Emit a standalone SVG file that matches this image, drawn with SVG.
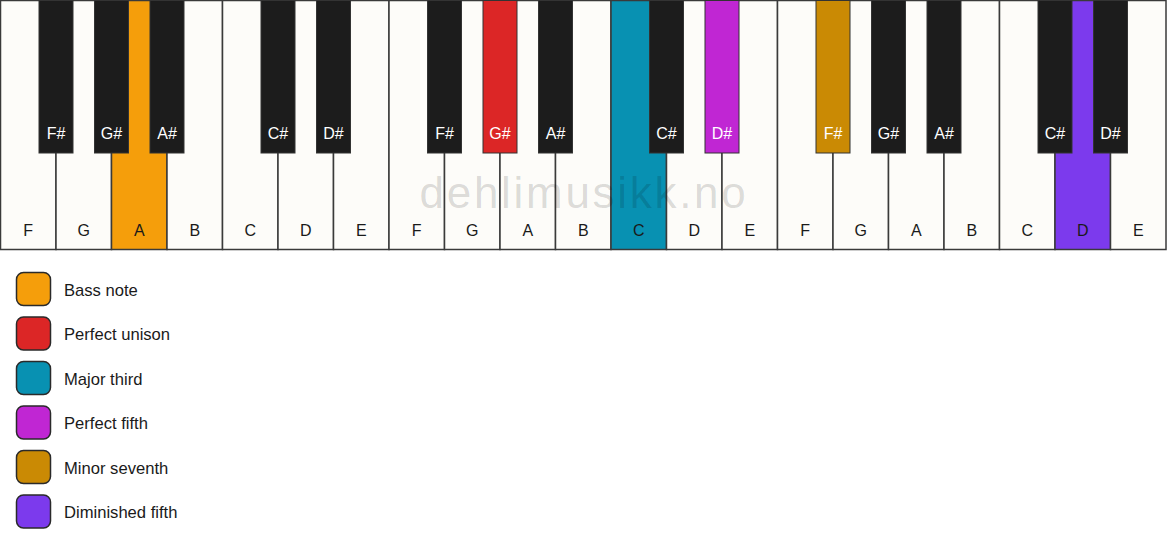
<svg xmlns="http://www.w3.org/2000/svg" width="1167" height="550" viewBox="0 0 1167 550">
<style>
.w{fill:#fdfcf9;stroke:#3a3a3a;stroke-width:1.5}
.b{fill:#1c1c1c;stroke:#333;stroke-width:1}
.wl{font-family:"Liberation Sans",Arial,sans-serif;font-size:16px;fill:#1a1a1a;text-anchor:middle}
.bl{font-family:"Liberation Sans",Arial,sans-serif;font-size:16px;fill:#ffffff;text-anchor:middle}
.sw{stroke:#2a2a2a;stroke-width:1.5}
.lt{font-family:"Liberation Sans",Arial,sans-serif;font-size:16.6px;fill:#1a1a1a}
.wm{font-family:"Liberation Sans",Arial,sans-serif;font-size:44px;fill:#000;fill-opacity:0.14;text-anchor:middle;letter-spacing:2.7px}
</style>
<rect x="0" y="0" width="1167" height="550" fill="#ffffff"/>
<g id="white-keys">
<g id="w0"><rect class="w" x="0.5" y="0.5" width="55.5" height="249"/><text class="wl" x="28.25" y="236">F</text></g>
<g id="w1"><rect class="w" x="56" y="0.5" width="55.5" height="249"/><text class="wl" x="83.75" y="236">G</text></g>
<g id="w2"><rect class="w" x="111.5" y="0.5" width="55.5" height="249" style="fill:#F59E0B"/><text class="wl" x="139.25" y="236">A</text></g>
<g id="w3"><rect class="w" x="167" y="0.5" width="55.5" height="249"/><text class="wl" x="194.75" y="236">B</text></g>
<g id="w4"><rect class="w" x="222.5" y="0.5" width="55.5" height="249"/><text class="wl" x="250.25" y="236">C</text></g>
<g id="w5"><rect class="w" x="278" y="0.5" width="55.5" height="249"/><text class="wl" x="305.75" y="236">D</text></g>
<g id="w6"><rect class="w" x="333.5" y="0.5" width="55.5" height="249"/><text class="wl" x="361.25" y="236">E</text></g>
<g id="w7"><rect class="w" x="389" y="0.5" width="55.5" height="249"/><text class="wl" x="416.75" y="236">F</text></g>
<g id="w8"><rect class="w" x="444.5" y="0.5" width="55.5" height="249"/><text class="wl" x="472.25" y="236">G</text></g>
<g id="w9"><rect class="w" x="500" y="0.5" width="55.5" height="249"/><text class="wl" x="527.75" y="236">A</text></g>
<g id="w10"><rect class="w" x="555.5" y="0.5" width="55.5" height="249"/><text class="wl" x="583.25" y="236">B</text></g>
<g id="w11"><rect class="w" x="611" y="0.5" width="55.5" height="249" style="fill:#0891B2"/><text class="wl" x="638.75" y="236">C</text></g>
<g id="w12"><rect class="w" x="666.5" y="0.5" width="55.5" height="249"/><text class="wl" x="694.25" y="236">D</text></g>
<g id="w13"><rect class="w" x="722" y="0.5" width="55.5" height="249"/><text class="wl" x="749.75" y="236">E</text></g>
<g id="w14"><rect class="w" x="777.5" y="0.5" width="55.5" height="249"/><text class="wl" x="805.25" y="236">F</text></g>
<g id="w15"><rect class="w" x="833" y="0.5" width="55.5" height="249"/><text class="wl" x="860.75" y="236">G</text></g>
<g id="w16"><rect class="w" x="888.5" y="0.5" width="55.5" height="249"/><text class="wl" x="916.25" y="236">A</text></g>
<g id="w17"><rect class="w" x="944" y="0.5" width="55.5" height="249"/><text class="wl" x="971.75" y="236">B</text></g>
<g id="w18"><rect class="w" x="999.5" y="0.5" width="55.5" height="249"/><text class="wl" x="1027.25" y="236">C</text></g>
<g id="w19"><rect class="w" x="1055" y="0.5" width="55.5" height="249" style="fill:#7C3AED"/><text class="wl" x="1082.75" y="236">D</text></g>
<g id="w20"><rect class="w" x="1110.5" y="0.5" width="55.5" height="249"/><text class="wl" x="1138.25" y="236">E</text></g>
</g>
<g id="black-keys">
<g id="b0"><rect class="b" x="39" y="0.5" width="34" height="152.5"/><text class="bl" x="56" y="139">F#</text></g>
<g id="b1"><rect class="b" x="94.5" y="0.5" width="34" height="152.5"/><text class="bl" x="111.5" y="139">G#</text></g>
<g id="b2"><rect class="b" x="150" y="0.5" width="34" height="152.5"/><text class="bl" x="167" y="139">A#</text></g>
<g id="b3"><rect class="b" x="261" y="0.5" width="34" height="152.5"/><text class="bl" x="278" y="139">C#</text></g>
<g id="b4"><rect class="b" x="316.5" y="0.5" width="34" height="152.5"/><text class="bl" x="333.5" y="139">D#</text></g>
<g id="b5"><rect class="b" x="427.5" y="0.5" width="34" height="152.5"/><text class="bl" x="444.5" y="139">F#</text></g>
<g id="b6"><rect class="b" x="483" y="0.5" width="34" height="152.5" style="fill:#DC2626"/><text class="bl" x="500" y="139">G#</text></g>
<g id="b7"><rect class="b" x="538.5" y="0.5" width="34" height="152.5"/><text class="bl" x="555.5" y="139">A#</text></g>
<g id="b8"><rect class="b" x="649.5" y="0.5" width="34" height="152.5"/><text class="bl" x="666.5" y="139">C#</text></g>
<g id="b9"><rect class="b" x="705" y="0.5" width="34" height="152.5" style="fill:#C026D3"/><text class="bl" x="722" y="139">D#</text></g>
<g id="b10"><rect class="b" x="816" y="0.5" width="34" height="152.5" style="fill:#CA8A04"/><text class="bl" x="833" y="139">F#</text></g>
<g id="b11"><rect class="b" x="871.5" y="0.5" width="34" height="152.5"/><text class="bl" x="888.5" y="139">G#</text></g>
<g id="b12"><rect class="b" x="927" y="0.5" width="34" height="152.5"/><text class="bl" x="944" y="139">A#</text></g>
<g id="b13"><rect class="b" x="1038" y="0.5" width="34" height="152.5"/><text class="bl" x="1055" y="139">C#</text></g>
<g id="b14"><rect class="b" x="1093.5" y="0.5" width="34" height="152.5"/><text class="bl" x="1110.5" y="139">D#</text></g>
</g>
<text class="wm" x="584" y="207.5">dehlimusikk.no</text>
<g id="legend">
<g id="leg-bass"><rect class="sw" x="16.5" y="272.5" width="34" height="33" rx="7" fill="#F59E0B"/><text class="lt" x="64" y="295.5">Bass note</text></g>
<g id="leg-unison"><rect class="sw" x="16.5" y="317" width="34" height="33" rx="7" fill="#DC2626"/><text class="lt" x="64" y="340">Perfect unison</text></g>
<g id="leg-third"><rect class="sw" x="16.5" y="361.5" width="34" height="33" rx="7" fill="#0891B2"/><text class="lt" x="64" y="384.5">Major third</text></g>
<g id="leg-fifth"><rect class="sw" x="16.5" y="406" width="34" height="33" rx="7" fill="#C026D3"/><text class="lt" x="64" y="429">Perfect fifth</text></g>
<g id="leg-seventh"><rect class="sw" x="16.5" y="450.5" width="34" height="33" rx="7" fill="#CA8A04"/><text class="lt" x="64" y="473.5">Minor seventh</text></g>
<g id="leg-dim"><rect class="sw" x="16.5" y="495" width="34" height="33" rx="7" fill="#7C3AED"/><text class="lt" x="64" y="518">Diminished fifth</text></g>
</g>
</svg>
